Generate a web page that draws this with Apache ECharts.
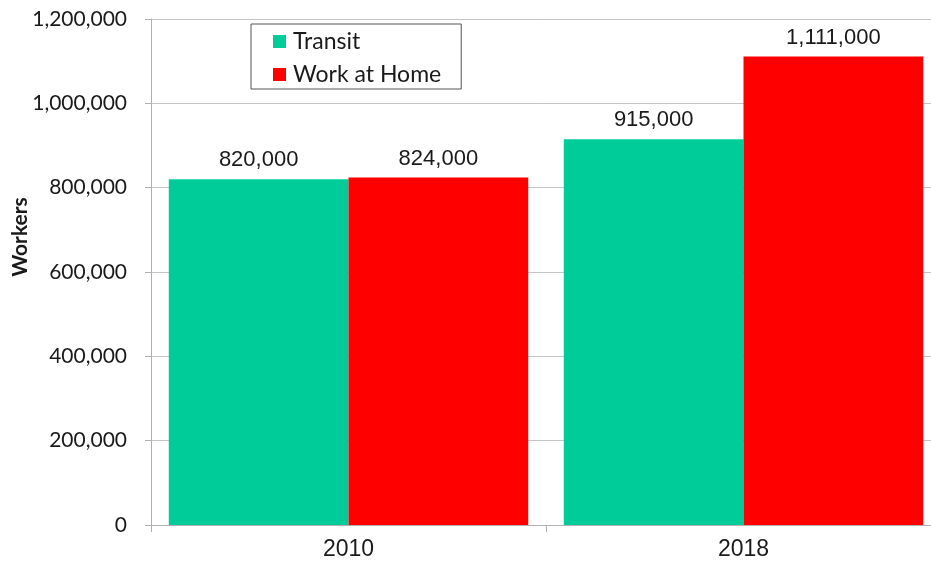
<!DOCTYPE html>
<html>
<head>
<meta charset="utf-8">
<style>
  html, body { margin: 0; padding: 0; background: #ffffff; }
  #chart { width: 931px; height: 564px; }
</style>
<script src="https://cdn.jsdelivr.net/npm/echarts@6/dist/echarts.min.js"></script>
</head>
<body>
<div id="chart"></div>
<script>
const categories = ['2010', '2018'];
const transitValues = [820000, 915000];
const workAtHomeValues = [824000, 1111000];
const seriesNames = ['Transit', 'Work at Home'];
const yAxisTitle = 'Workers';

const fmt = v => v.toLocaleString('en-US');

const chart = echarts.init(document.getElementById('chart'), null, { renderer: 'canvas' });
const narrow = '"Liberation Sans Narrow", "Liberation Sans", Arial, sans-serif';
const calib = 'Lato, "Open Sans", sans-serif';

chart.setOption({
  animation: false,
  backgroundColor: '#ffffff',
  grid: { left: 151, right: -10, top: 19, bottom: 39, containLabel: false, outerBoundsMode: 'none' },
  legend: {
    data: seriesNames,
    orient: 'vertical',
    left: 251,
    top: 24,
    itemWidth: 13,
    itemHeight: 13,
    itemGap: 10,
    padding: [6, 20, 3, 22],
    borderColor: '#555555',
    borderWidth: 1,
    backgroundColor: '#ffffff',
    icon: 'rect',
    textStyle: { fontFamily: calib, fontSize: 23, color: '#1a1a1a', padding: [0, 0, 0, 2] }
  },
  xAxis: {
    type: 'category',
    data: categories,
    axisLine: { show: true, lineStyle: { color: '#b0b0b0', width: 1 } },
    axisTick: { show: true, length: 7, alignWithLabel: false, lineStyle: { color: '#b0b0b0' } },
    axisLabel: { fontFamily: narrow, fontSize: 23, color: '#1a1a1a', margin: 13 },
    splitLine: { show: false }
  },
  yAxis: {
    type: 'value',
    min: 0,
    max: 1200000,
    interval: 200000,
    name: yAxisTitle,
    nameLocation: 'middle',
    nameGap: 120,
    nameMoveOverlap: false,
    nameTextStyle: { fontFamily: calib, fontSize: 21, fontWeight: 'bold', color: '#1a1a1a', padding: [0, 0, 0, 70] },
    axisLine: { show: true, lineStyle: { color: '#b0b0b0', width: 1 } },
    axisTick: { show: true, length: 6, lineStyle: { color: '#b0b0b0' } },
    axisLabel: { fontFamily: calib, fontSize: 21, color: '#1a1a1a', margin: 24, formatter: v => fmt(v) },
    splitLine: { show: true, lineStyle: { color: '#c4c4c4', width: 1 } }
  },
  series: [
    {
      name: seriesNames[0],
      type: 'bar',
      data: transitValues,
      barGap: '0%',
      barCategoryGap: '9%',
      itemStyle: { color: '#00CC99' },
      label: { show: true, position: 'top', distance: 8, fontFamily: narrow, fontSize: 22, color: '#1a1a1a', formatter: p => fmt(p.value) }
    },
    {
      name: seriesNames[1],
      type: 'bar',
      data: workAtHomeValues,
      barGap: '0%',
      barCategoryGap: '9%',
      itemStyle: { color: '#FF0000' },
      label: { show: true, position: 'top', distance: 8, fontFamily: narrow, fontSize: 22, color: '#1a1a1a', formatter: p => fmt(p.value) }
    }
  ]
});
</script>
</body>
</html>
